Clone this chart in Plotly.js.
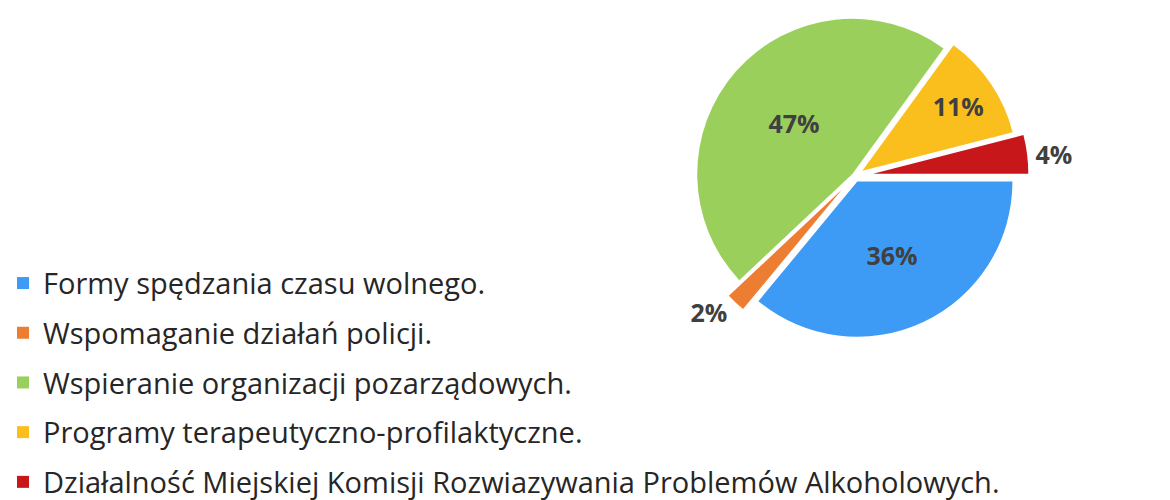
<!DOCTYPE html>
<html>
<head>
<meta charset="utf-8">
<script src="https://cdn.plot.ly/plotly-3.0.1.min.js"></script>
<style>html,body{margin:0;padding:0;background:#fff;}#chart{width:1170px;height:500px;}</style>
</head>
<body>
<div id="chart"></div>
<script>
const categories = [
  "Formy spędzania czasu wolnego.",
  "Wspomaganie działań policji.",
  "Wspieranie organizacji pozarządowych.",
  "Programy terapeutyczno-profilaktyczne.",
  "Działalność Miejskiej Komisji Rozwiazywania Problemów Alkoholowych."
];
const shares = [36, 2, 47, 11, 4];
const sliceColors = ["#3d9bf5", "#ed7d31", "#9bcf5c", "#fbbf1d", "#c8171a"];
const slicePull = [0.04, 0.12, 0.02, 0.06, 0.12];
const labelPositions = ["inside", "outside", "inside", "inside", "outside"];

// invisible entry that only enables per-item gaps in the legend
const spacer = {
  type: "scatter", x: [null], y: [null], mode: "markers",
  marker: {color: "rgba(0,0,0,0)"}, name: " ", legendgroup: "spacer",
  showlegend: true, hoverinfo: "skip"
};

const pie = {
  type: "pie",
  labels: categories,
  values: shares,
  sort: false,
  direction: "clockwise",
  rotation: 90,
  pull: slicePull,
  marker: {colors: sliceColors, line: {color: "#ffffff", width: 0}},
  textinfo: "percent",
  textposition: labelPositions,
  insidetextorientation: "horizontal",
  insidetextfont: {family: "Open Sans, sans-serif", size: 25, color: "#404040", weight: "bold"},
  outsidetextfont: {family: "Open Sans, sans-serif", size: 25, color: "#404040", weight: "bold"},
  domain: {x: [0.582, 0.879], y: [0.30, 0.996]},
  hoverinfo: "label+percent",
  showlegend: true
};

const layout = {
  width: 1170, height: 500,
  margin: {l: 0, r: 0, t: 0, b: 0, autoexpand: false},
  paper_bgcolor: "#ffffff", plot_bgcolor: "#ffffff",
  xaxis: {visible: false}, yaxis: {visible: false},
  showlegend: true,
  legend: {
    x: 3 / 1170, xanchor: "left", y: 1 - 208 / 500, yanchor: "top",
    traceorder: "grouped", tracegroupgap: 9,
    font: {family: "Open Sans, sans-serif", size: 29, color: "#262626"},
    bgcolor: "rgba(0,0,0,0)"
  }
};

Plotly.newPlot("chart", [spacer, pie], layout, {displayModeBar: false, staticPlot: true});
</script>
</body>
</html>
